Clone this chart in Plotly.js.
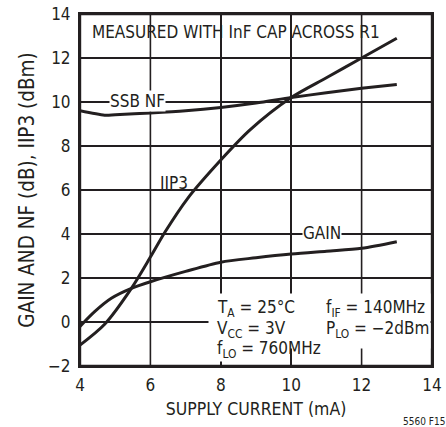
<!DOCTYPE html>
<html>
<head>
<meta charset="utf-8">
<script src="https://cdn.plot.ly/plotly-3.0.1.min.js"></script>
<style>html,body{margin:0;padding:0;background:#fff;}#chart{width:446px;height:427px;}</style>
</head>
<body>
<div id="chart"></div>
<script>
// Data
const nfX   = [4, 4.7, 5, 6, 7, 8, 9, 10, 11, 12, 13];
const nfY   = [9.6, 9.4, 9.42, 9.5, 9.6, 9.75, 9.95, 10.2, 10.42, 10.62, 10.8];
const iip3X = [4, 4.7, 5.46, 6, 6.42, 7.05, 8, 8.83, 10, 11, 12, 13];
const iip3Y = [-1.05, -0.1, 1.53, 2.95, 4.1, 5.6, 7.36, 8.73, 10.2, 11.1, 12.0, 12.9];
const gainX = [4, 4.4, 4.89, 5.46, 6, 7, 8, 9, 10, 11, 12, 13];
const gainY = [-0.2, 0.45, 1.08, 1.53, 1.83, 2.3, 2.72, 2.92, 3.09, 3.22, 3.35, 3.65];
const xTicks = [4, 6, 8, 10, 12, 14];
const yTicks = [-2, 0, 2, 4, 6, 8, 10, 12, 14];
const yTickText = ['\u22122', '0', '2', '4', '6', '8', '10', '12', '14'];

const FONT = '"DejaVu Sans Condensed", "Liberation Sans Narrow", "Liberation Sans", sans-serif';
const INK = '#231f20';

const xMin = xTicks[0], xMax = xTicks[xTicks.length - 1];
const yMin = yTicks[0], yMax = yTicks[yTicks.length - 1];

// grid lines built from the tick arrays (drawn as a trace as well as by the axes)
const gridX = [], gridY = [];
xTicks.slice(1, -1).forEach(function (t) { gridX.push(t, t, null); gridY.push(yMin, yMax, null); });
yTicks.slice(1, -1).forEach(function (t) { gridX.push(xMin, xMax, null); gridY.push(t, t, null); });

function line(x, y, name) {
  return {x: x, y: y, name: name, type: 'scatter', mode: 'lines',
    line: {color: INK, width: 3, shape: 'spline', smoothing: 0.8}, hoverinfo: 'skip'};
}

const data = [
  {x: gridX, y: gridY, type: 'scatter', mode: 'lines', line: {color: INK, width: 1.6}, hoverinfo: 'skip'},
  {x: [xMin, xMax, xMax, xMin, xMin], y: [yMin, yMin, yMax, yMax, yMin], type: 'scatter', mode: 'lines',
   line: {color: INK, width: 2.4}, cliponaxis: false, hoverinfo: 'skip'},
  line(nfX, nfY, 'SSB NF'), line(iip3X, iip3Y, 'IIP3'), line(gainX, gainY, 'GAIN')
];

function ann(text, x, y, opts) {
  return Object.assign({text: text, x: x, y: y, xref: 'x', yref: 'y', showarrow: false,
    font: {family: FONT, size: 17, color: INK}, xanchor: 'center', yanchor: 'middle'}, opts || {});
}

const layout = {
  width: 446, height: 427,
  margin: {l: 80, r: 14, t: 14, b: 61},
  showlegend: false,
  font: {family: FONT, size: 17, color: INK},
  xaxis: {
    range: [xMin, xMax], tickvals: xTicks, ticktext: xTicks.map(String),
    showgrid: true, gridcolor: INK, gridwidth: 1.6, zeroline: false,
    showline: true, mirror: true, linecolor: INK, linewidth: 2,
    ticks: '', ticklabelstandoff: 3,
    tickfont: {family: FONT, size: 17, color: INK},
    title: {text: 'SUPPLY CURRENT (mA)', font: {family: FONT, size: 17.5, color: INK}, standoff: 8}
  },
  yaxis: {
    range: [yMin, yMax], tickvals: yTicks, ticktext: yTickText,
    showgrid: true, gridcolor: INK, gridwidth: 1.6, zeroline: false,
    showline: true, mirror: true, linecolor: INK, linewidth: 2,
    ticks: '', ticklabelstandoff: 4,
    tickfont: {family: FONT, size: 17, color: INK},
    title: {text: 'GAIN AND NF (dB), IIP3 (dBm)', font: {family: FONT, size: 20.5, color: INK}, standoff: 8}
  },
  annotations: [
    // white boxes that hide the grid behind the condition text
    ann(' ', 7.64, 1.3, {xanchor: 'left', yanchor: 'top', width: 221, height: 54, bgcolor: '#fff', borderpad: 0}),
    ann(' ', 7.64, -1.14, {xanchor: 'left', yanchor: 'top', width: 24, height: 13, bgcolor: '#fff', borderpad: 0}),
    ann('MEASURED WITH InF CAP ACROSS R1', 4.28, 13.2, {xanchor: 'left'}),
    ann('SSB NF', 5.62, 10, {bgcolor: '#fff', borderpad: 0, yshift: 1}),
    ann('IIP3', 6.67, 6.34),
    ann('GAIN', 10.87, 4.03, {bgcolor: '#fff', borderpad: 0}),
    ann('T<sub>A</sub> = 25\u00b0C', 7.84, 0.6, {xanchor: 'left'}),
    ann('V<sub>CC</sub> = 3V', 7.84, -0.35, {xanchor: 'left'}),
    ann('f<sub>LO</sub> = 760MHz', 7.84, -1.26, {xanchor: 'left'}),
    ann('f<sub>IF</sub> = 140MHz', 10.93, 0.6, {xanchor: 'left'}),
    ann('P<sub>LO</sub> = \u22122dBm', 10.93, -0.35, {xanchor: 'left'}),
    {text: '5560 F15', xref: 'paper', yref: 'paper', x: 1, y: 0, xanchor: 'right', yanchor: 'middle',
     xshift: 15, yshift: -55, showarrow: false, font: {family: FONT, size: 10, color: INK}}
  ]
};

Plotly.newPlot('chart', data, layout, {staticPlot: true, displayModeBar: false});
</script>
</body>
</html>
